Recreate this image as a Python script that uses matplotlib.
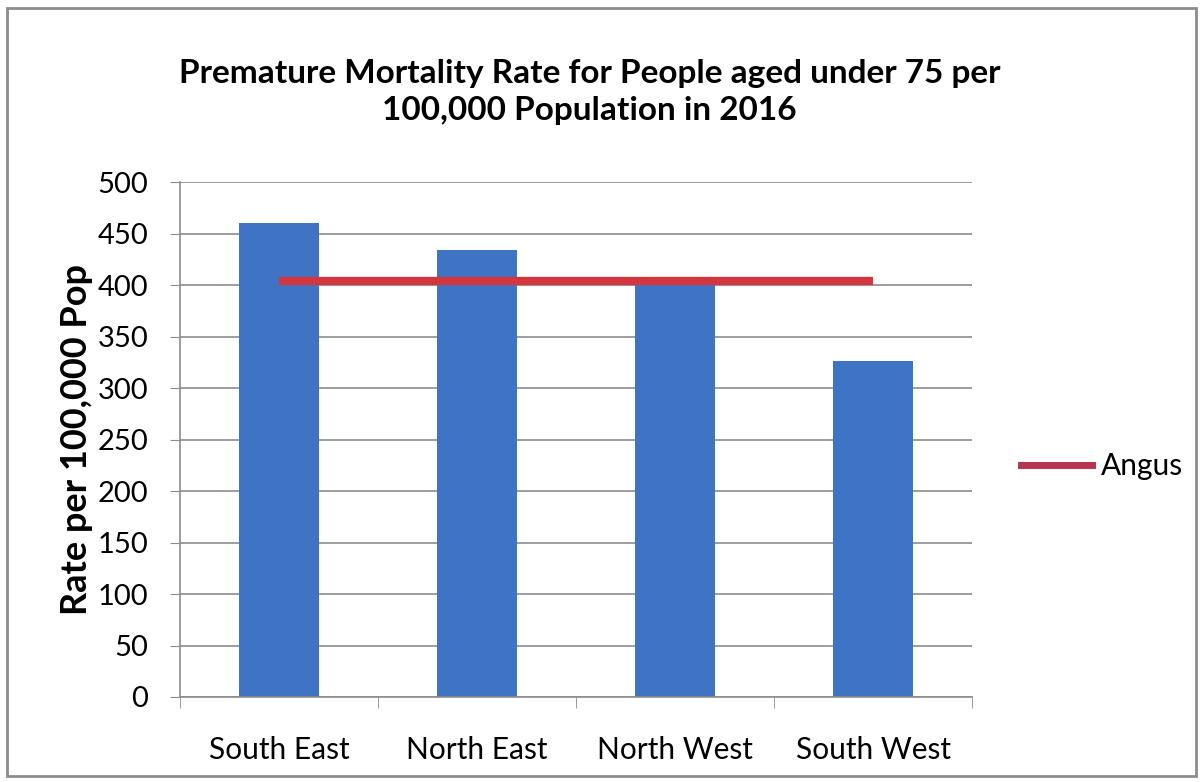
import matplotlib.pyplot as plt
from matplotlib.patches import Rectangle

plt.rcParams['font.family'] = ['Lato', 'DejaVu Sans']

regions = ["South East", "North East", "North West", "South West"]
rates = [460, 434, 401, 326]
angus = [404, 404, 404, 404]

fig = plt.figure(figsize=(12.03, 7.82), dpi=100)
ax = fig.add_axes([0.1496, 0.1087, 0.6584, 0.6583])

x = list(range(len(regions)))
ax.bar(x, rates, width=0.4, color='#3F74C4', zorder=2)
ax.plot(x, angus, color='#D3363F', lw=6, solid_capstyle='butt', zorder=3, label="Angus")

ax.set_xlim(-0.5, 3.5)
ax.set_ylim(0, 500)
ax.set_yticks(range(0, 501, 50))
ax.grid(axis='y', color='#8c8c8c', lw=1.2, zorder=0)
ax.tick_params(axis='y', labelsize=21, length=7, color='#8c8c8c', pad=16)
ax.set_xticks(x)
ax.set_xticklabels(regions, fontsize=21.5)
ax.tick_params(axis='x', length=0, pad=28)
# category boundary ticks on the x axis
ax.set_xticks([-0.5, 0.5, 1.5, 2.5, 3.5], minor=True)
ax.tick_params(axis='x', which='minor', length=8, color='#8c8c8c')
for s in ['top', 'right']:
    ax.spines[s].set_visible(False)
ax.spines['left'].set_color('#8c8c8c')
ax.spines['bottom'].set_color('#8c8c8c')
ax.spines['left'].set_linewidth(1.2)
ax.spines['bottom'].set_linewidth(1.2)

ax.set_ylabel("Rate per 100,000 Pop", fontsize=26, fontweight='bold', labelpad=3)
fig.text(0.49, 0.882, "Premature Mortality Rate for People aged under 75 per\n100,000 Population in 2016",
         ha='center', va='center', fontsize=24, fontweight='bold', linespacing=1.35)

leg_line, = ax.plot([], [], color='#B8344F', lw=5)
fig.legend([leg_line], ["Angus"], loc='center left', bbox_to_anchor=(0.826, 0.404),
           frameon=False, fontsize=21.5, handlelength=2.4, handletextpad=0.3)

fig.patches.append(Rectangle((0.006, 0.008), 0.988, 0.982, transform=fig.transFigure,
                             fill=False, edgecolor='#8c8c8c', lw=2))

fig.savefig("out.png", dpi=100)
